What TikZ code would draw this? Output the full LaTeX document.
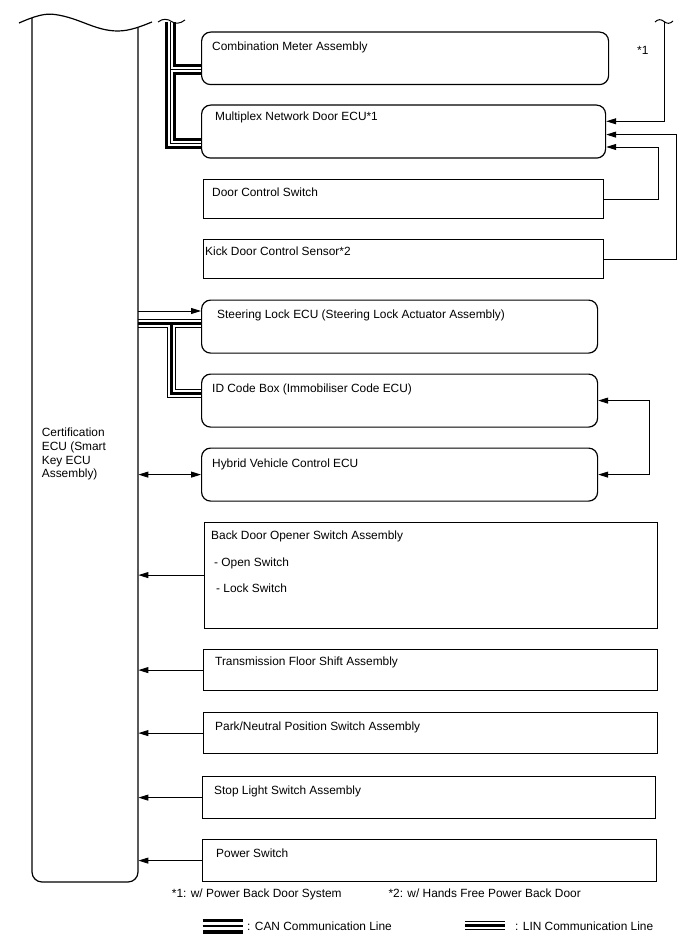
\documentclass[tikz,border=0pt]{standalone}
\usepackage{fontspec}
\setmainfont{Liberation Sans}
\usetikzlibrary{arrows.meta,calc}
\pgfdeclarelayer{bg}
\pgfsetlayers{bg,main}
\begin{document}
\begin{tikzpicture}[x=1pt,y=-1pt,
  font=\fontsize{11.9}{13.8}\selectfont,
  bord/.style={line width=1.2pt},
  rbox/.style={draw, line width=1.2pt, rounded corners=9pt, anchor=north west, inner sep=0pt},
  sbox/.style={draw, line width=1.2pt, anchor=north west, inner sep=0pt},
  lbl/.style={anchor=base west, inner sep=0pt},
  conn/.style={line width=0.9pt},
  tip/.tip={Triangle[length=10pt,width=6pt]},
  arr/.style={conn, -tip},
  darr/.style={conn, tip-tip}]
\useasboundingbox (0,0) rectangle (688,949);

% Certification ECU
\node[inner sep=0pt, minimum width=106pt, minimum height=860pt, anchor=north west] (ecu) at (32,22) {};
\draw[bord] (19,23) .. controls (35,16) and (45,13) .. (55,14.5) .. controls (80,18) and (95,31) .. (118,31) .. controls (130,31) and (142,26) .. (152,22);
\draw[bord, rounded corners=10pt] (32,17.8) -- (32,882) -- (138,882) -- (138,27.5);
\node[lbl] (t1) at (41.7,436.7) {Certification};
\node[lbl] (t2) at (41.7,450.4) {ECU (Smart};
\node[lbl] (t3) at (41.7,464.1) {Key ECU};
\node[lbl] (t4) at (41.7,477.8) {Assembly)};

% boxes
\node[rbox, minimum width=407pt, minimum height=52.5pt] (comb) at (201,31.5) {};
\node[lbl] at (212,50.7) {Combination Meter Assembly};
\node[rbox, minimum width=404pt, minimum height=53pt] (mpx) at (201,104.5) {};
\node[lbl] at (215,121) {Multiplex Network Door ECU*1};
\node[sbox, minimum width=400pt, minimum height=39pt] (dsw) at (203,179) {};
\node[lbl] at (212,196.7) {Door Control Switch};
\node[sbox, minimum width=400pt, minimum height=39pt] (kick) at (203,239) {};
\node[lbl] at (205,256) {Kick Door Control Sensor*2};
\node[rbox, minimum width=396pt, minimum height=53pt] (slk) at (201,299.5) {};
\node[lbl] at (217,318) {Steering Lock ECU (Steering Lock Actuator Assembly)};
\node[rbox, minimum width=396pt, minimum height=53pt] (idb) at (201,373.5) {};
\node[lbl] at (212,392) {ID Code Box (Immobiliser Code ECU)};
\node[rbox, minimum width=396pt, minimum height=53pt] (hyb) at (201,447.5) {};
\node[lbl] at (212,467) {Hybrid Vehicle Control ECU};
\node[sbox, minimum width=453pt, minimum height=106pt] (bdo) at (204,521.5) {};
\node[lbl] at (211,539) {Back Door Opener Switch Assembly};
\node[lbl] at (214,566) {- Open Switch};
\node[lbl] at (216,592) {- Lock Switch};
\node[sbox, minimum width=454pt, minimum height=41pt] (tfs) at (203,649) {};
\node[lbl] at (215,665) {Transmission Floor Shift Assembly};
\node[sbox, minimum width=454pt, minimum height=41pt] (pns) at (203,712) {};
\node[lbl] at (215,730) {Park/Neutral Position Switch Assembly};
\node[sbox, minimum width=453pt, minimum height=42pt] (sls) at (202,776) {};
\node[lbl] at (214,794) {Stop Light Switch Assembly};
\node[sbox, minimum width=454pt, minimum height=42pt] (psw) at (202,839) {};
\node[lbl] at (216,857) {Power Switch};

% CAN bus (top)
\coordinate (cantop) at (170.5,22);
\coordinate (canc) at (170.5,143.5);
\coordinate (canb) at (170.5,69.5);
\begin{pgfonlayer}{bg}
\foreach \w/\c in {11pt/black,5pt/white,1.2pt/black}
  \draw[line width=\w, \c] (cantop) -- (canc) -- (mpx.west |- canc)
        (canb) -- (comb.west |- canb);
% LIN line
\coordinate (linm) at (0,323);
\coordinate (linj) at (171,323);
\coordinate (lini) at (0,393.5);
\foreach \w/\c in {9pt/black,7pt/white,3pt/black}
  \draw[line width=\w, \c] (ecu.east |- linm) -- (slk.west |- linm)
        (linj) |- (idb.west |- lini);
\end{pgfonlayer}
\draw[line width=1pt] (158,22) .. controls (163,18) and (168,19) .. (171.5,21.5) .. controls (175,24) and (180,24) .. (185,20);

% right side connectors
\coordinate (w1) at (664,22);
\draw[line width=1pt] (655,22) .. controls (658,19) and (661,19) .. (664,21.5) .. controls (667,24) and (670,24) .. (673,21);
\draw[arr] (w1) |- ($(mpx.east)+(0,-10.3)$);
\node[lbl] at (637,55) {*1};
\draw[arr] (kick.east) -- ++(72,0) |- ($(mpx.east)+(0,3)$);
\draw[arr] (dsw.east) -- ++(54,0) |- ($(mpx.east)+(0,15.4)$);
\draw[darr] (idb.east) -- ++(51,0) |- (hyb.east);

% left side connectors
\draw[arr] (ecu.east |- 0,311) -- (slk.west |- 0,311);
\draw[darr] (ecu.east |- hyb.west) -- (hyb.west);
\draw[arr] (bdo.west) -- (ecu.east |- bdo.west);
\draw[arr] (tfs.west) -- (ecu.east |- tfs.west);
\draw[arr] (pns.west) -- (ecu.east |- pns.west);
\draw[arr] (sls.west) -- (ecu.east |- sls.west);
\draw[arr] (psw.west) -- (ecu.east |- psw.west);

% footnotes
\node[lbl] at (171.7,897) {*1: w/ Power Back Door System};
\node[lbl] at (388.3,897) {*2: w/ Hands Free Power Back Door};

% legend
\coordinate (cl1) at (202.5,926);
\coordinate (cl2) at (243,926);
\foreach \w/\c in {15pt/black,8pt/white,2pt/black}
  \draw[line width=\w, \c] (cl1) -- (cl2);
\node[lbl] at (247,930) {: CAN Communication Line};
\coordinate (ll1) at (465,925.5);
\coordinate (ll2) at (505,925.5);
\foreach \w/\c in {9pt/black,7pt/white,3.5pt/black}
  \draw[line width=\w, \c] (ll1) -- (ll2);
\node[lbl] at (515,930) {: LIN Communication Line};
\end{tikzpicture}
\end{document}
